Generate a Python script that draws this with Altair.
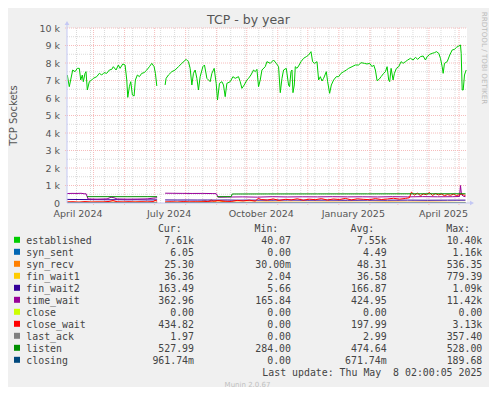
import altair as alt
import pandas as pd

# ---------------- data ----------------
START = pd.Timestamp("2024-04-04 12:00")  # left edge of the plot; "day" values count from here

names = ["established", "syn_sent", "syn_recv", "fin_wait1", "fin_wait2", "time_wait",
         "close", "close_wait", "last_ack", "listen", "closing"]
colors = ["#00CC00", "#0066B3", "#FF8000", "#FFCC00", "#330099", "#990099",
          "#CCFF00", "#FF0000", "#808080", "#008F00", "#00487D"]

cur_txt = ["7.61k", "6.05", "25.30", "36.36", "163.49", "362.96", "0.00", "434.82", "1.97", "527.99", "961.74m"]
min_txt = ["40.07", "0.00", "30.00m", "2.04", "5.66", "165.84", "0.00", "0.00", "0.00", "284.00", "0.00"]
avg_txt = ["7.55k", "4.49", "48.31", "36.58", "166.87", "424.95", "0.00", "197.99", "2.99", "474.64", "671.74m"]
max_txt = ["10.40k", "1.16k", "536.35", "779.39", "1.09k", "11.42k", "0.00", "3.13k", "357.40", "528.00", "189.68"]

est_days = [0.3, 2.3, 5.7, 8, 10.3, 12.3, 13.7, 15.3, 16.3, 18, 19, 20.3, 22.3, 24.7, 26.3, 29.7, 32.3, 34.7, 37, 39.7,
            42.3, 44.7, 46.3, 49, 51.3, 53, 55.7, 58, 59.7, 60.7, 62.3, 63.7, 65.3, 67, 68.3, 70.3, 72.3, 74.7, 77, 79.7,
            82.3, 84.7, 87, 88.3, 89.7,
            98, 99, 101.3, 104.7, 108, 111.3, 114.7, 119, 121.3, 123, 124.7, 126.3, 128, 129.7, 131.3, 133, 135.7, 137.3,
            139.7, 143, 144.7, 147, 149, 150.3, 152.3, 154.7, 156.3, 158, 159.7, 163, 165.7, 168, 171.3, 173, 174.7, 177,
            179.7, 181.3, 183.7, 186.3, 188, 189.7, 191.3, 193, 194.7, 198, 199.7, 203, 206.3,
            209, 211.3, 213, 214.7, 216.3, 219, 221.3, 222.3, 223.7, 224.7, 225.7, 227, 228, 229.7, 231.3, 233.7, 236.3,
            239, 241.3, 243.7, 245.3, 247.3, 249.7, 251.3, 253, 254.7, 256.3, 259, 260.3, 262.3, 264, 266.3, 269, 271.3,
            273.7, 276.3, 279, 281.3, 284.7, 288, 291.3, 293.7, 297, 299.7, 302.3, 304.7, 306.3, 308, 309.7, 311.7, 313.7,
            316.3, 318, 319.7, 321.3, 322.3, 323.7, 325.7, 327, 329, 331.3, 333.7, 335.7, 338, 340.3, 343, 345.7, 348,
            350.3, 353, 355.7, 358, 359.7, 362.3, 364.7, 367, 369, 371.3, 373, 374.7, 375.7, 377, 379.7, 382.3, 384.7,
            387, 389, 391.3, 393, 393.7, 394.7, 395.7, 397, 398.7]
est_vals = [7314, 6648, 7600, 7505, 7695, 7695, 7029, 7314, 6933, 7410, 7505, 6457, 6933, 7029, 7124, 7219, 7410, 7314,
            7448, 7410, 7600, 7638, 7790, 7600, 7886, 7695, 7943, 7886, 7029, 6038, 6648, 6933, 6171, 6114, 7029, 7314,
            7219, 7410, 7448, 7600, 7790, 7981, 7790, 7410, 6686,
            6743, 7124, 7314, 7505, 7600, 7790, 7981, 8210, 8076, 7695, 6743, 7410, 7600, 7124, 6457, 7219, 7790, 7886,
            7124, 6933, 7410, 7695, 6838, 5886, 6838, 6933, 6743, 6076, 6838, 6933, 7219, 7124, 7219, 6933, 6552, 6743,
            7029, 7124, 7314, 7600, 7505, 7638, 6648, 7029, 7600, 7790, 8076, 7981, 8171,
            7981, 7790, 6305, 7124, 7600, 7695, 6743, 6648, 7505, 7600, 6305, 6743, 7790, 7695, 7829, 8076, 8267, 8362,
            8457, 8648, 8076, 7981, 8076, 7029, 7219, 6971, 7124, 7505, 6933, 6267, 6743, 7029, 7219, 7219, 7410, 7505,
            7600, 7695, 7790, 7886, 7886, 8019, 7981, 7943, 7981, 7790, 7886, 7600, 6990, 7067, 7219, 7410, 7505, 7790,
            7029, 6933, 7695, 7029, 7410, 7695, 7790, 8076, 7981, 8076, 8171, 8267, 8171, 8324, 8210, 8362, 8400, 8171,
            8362, 8495, 8552, 8590, 8648, 8552, 8267, 7790, 7410, 7981, 8076, 8457, 8743, 8781, 8895, 8971, 9029, 8552,
            6457, 6457, 7314, 7600]

ss_days = [0, 90, 98, 398]
ss_vals = [5, 5, 5, 6]

sr_days = [0, 10, 20, 30, 40, 50, 60, 70, 80, 90, 98, 110, 120, 130, 138, 141, 144, 147, 150, 160, 170, 180, 200, 220,
           240, 260, 280, 300, 320, 340, 360, 380, 398]
sr_vals = [40, 35, 45, 40, 50, 45, 40, 60, 45, 40, 35, 40, 45, 50, 120, 60, 180, 70, 130, 50, 45, 40, 55, 45, 40, 50, 45,
           40, 55, 45, 50, 40, 25]

fw1_days = [0, 30, 60, 90, 98, 130, 160, 200, 240, 280, 320, 360, 398]
fw1_vals = [35, 38, 34, 36, 37, 35, 38, 36, 37, 35, 38, 36, 36]

fw2_days = [0, 10, 20, 30, 40, 50, 60, 70, 80, 90, 98, 110, 120, 130, 140, 150, 160, 170, 180, 200, 220, 240, 260, 280,
            300, 320, 340, 360, 380, 398]
fw2_vals = [205, 200, 195, 190, 185, 190, 180, 185, 175, 180, 175, 170, 172, 168, 170, 165, 170, 160, 165, 162, 168, 160,
            165, 158, 162, 160, 165, 158, 162, 163]

tw_days = [0, 5, 10, 14, 18, 19, 21, 30, 40, 44, 47, 50, 60, 70, 80, 88, 90, 98, 105, 115, 125, 135, 145, 149, 151, 160,
           175, 190, 205, 220, 235, 250, 265, 280, 295, 310, 325, 340, 355, 370, 385, 392, 393, 394, 396, 398]
tw_vals = [540, 550, 545, 555, 520, 535, 230, 220, 235, 330, 300, 230, 220, 225, 235, 290, 300, 560, 555, 550, 545, 548,
           540, 535, 330, 340, 350, 335, 360, 345, 355, 350, 360, 350, 355, 345, 360, 350, 365, 355, 360, 370, 1000, 480,
           380, 363]

cl_days = [0, 90, 98, 398]
cl_vals = [0, 0, 0, 0]

cw_days = [0, 6, 12, 18, 24, 30, 36, 42, 46, 50, 56, 62, 68, 74, 80, 86, 88, 90, 98, 104, 110, 116, 122, 128, 134, 140,
           146, 152, 158, 164, 170, 176, 182, 188, 191, 194, 200, 206, 212, 218, 224, 230, 236, 242, 248, 254, 260, 266,
           272, 278, 284, 290, 296, 302, 308, 314, 320, 326, 332, 338, 342, 344, 347, 350, 353, 356, 359, 362, 365, 368,
           371, 374, 377, 380, 383, 386, 389, 392, 394, 396, 398]
cw_vals = [60, 70, 50, 80, 55, 65, 60, 90, 140, 70, 60, 75, 55, 70, 60, 80, 150, 110, 60, 70, 55, 80, 65, 70, 60, 90, 110,
           140, 100, 90, 150, 120, 160, 110, 260, 200, 170, 230, 150, 210, 180, 240, 160, 220, 190, 250, 170, 230, 200,
           260, 180, 240, 210, 190, 250, 200, 230, 270, 220, 260, 300, 620, 450, 560, 420, 520, 470, 600, 430, 540, 460,
           510, 420, 480, 440, 500, 430, 470, 520, 460, 435]

la_days = [0, 90, 98, 398]
la_vals = [3, 3, 3, 2]

ls_days = [20, 40, 60, 80, 90, 150, 164, 165, 200, 250, 300, 350, 398]
ls_vals = [362, 362, 360, 362, 362, 362, 362, 515, 518, 520, 522, 526, 528]

cs_days = [0, 90, 98, 398]
cs_vals = [1, 1, 1, 1]

series = [("established", est_days, est_vals), ("syn_sent", ss_days, ss_vals), ("syn_recv", sr_days, sr_vals),
          ("fin_wait1", fw1_days, fw1_vals), ("fin_wait2", fw2_days, fw2_vals), ("time_wait", tw_days, tw_vals),
          ("close", cl_days, cl_vals), ("close_wait", cw_days, cw_vals), ("last_ack", la_days, la_vals),
          ("listen", ls_days, ls_vals), ("closing", cs_days, cs_vals)]

month_starts = ["2024-05-01", "2024-06-01", "2024-07-01", "2024-08-01", "2024-09-01", "2024-10-01", "2024-11-01",
                "2024-12-01", "2025-01-01", "2025-02-01", "2025-03-01", "2025-04-01", "2025-05-01"]
label_dates = [(2024, 4), (2024, 7), (2024, 10), (2025, 1), (2025, 4)]
y_major = [1000, 2000, 3000, 4000, 5000, 6000, 7000, 8000, 9000, 10000]
y_minor = [500, 1500, 2500, 3500, 4500, 5500, 6500, 7500, 8500, 9500]

# ---------------- tables ----------------
rows = []
for name, days, vals in series:
    for d, v in zip(days, vals):
        rows.append({"series": name, "date": START + pd.Timedelta(days=d), "value": v, "seg": int(d >= 91)})
df = pd.DataFrame(rows)

minor_dates = pd.date_range("2024-04-14", "2025-05-08", freq="14D")
vmin_df = pd.DataFrame({"date": minor_dates})
vmaj_df = pd.DataFrame({"date": pd.to_datetime(month_starts)})
hmaj_df = pd.DataFrame({"value": y_major})
hmin_df = pd.DataFrame({"value": y_minor})
one = pd.DataFrame({"_": [0]})

W, H = 400, 175
SANS = "DejaVu Sans"
MONO = "DejaVu Sans Mono"
TXT = "#555555"
LEG = "#444444"
AXIS_C = "#c4c8f4"
MAJ_C = "#f6bcbc"
MIN_C = "#dadada"

xscale = alt.Scale(domain=[alt.DateTime(year=2024, month=4, date=4, hours=12),
                           alt.DateTime(year=2025, month=5, date=9)])
yscale = alt.Scale(domain=[0, 10000], nice=False, zero=True)
xaxis = alt.Axis(values=[alt.DateTime(year=y, month=m, date=15) for y, m in label_dates],
                 labelExpr="timeFormat(datum.value, '%B %Y')", ticks=False, domain=False, grid=False,
                 labelFont=SANS, labelFontSize=9.5, labelColor=TXT, labelPadding=5.5,
                 labelFlush=False, labelOverlap=False, labelBound=False, title=None)
yaxis = alt.Axis(values=[0] + y_major,
                 labelExpr="datum.value == 0 ? '0\u00a0\u00a0' : (datum.value / 1000) + ' k'",
                 ticks=False, domain=False, grid=False, labelFont=SANS, labelFontSize=9.5, labelColor=TXT,
                 labelPadding=7.5, title=None)
X = alt.X("date:T", scale=xscale, axis=xaxis)
Y = alt.Y("value:Q", scale=yscale, axis=yaxis)

layers = []
layers.append(alt.Chart(vmin_df).mark_rule(color=MIN_C, strokeDash=[1, 1], strokeWidth=1).encode(
    x=X, y=alt.value(0), y2=alt.value(H)))
layers.append(alt.Chart(hmin_df).mark_rule(color=MIN_C, strokeDash=[1, 1], strokeWidth=1).encode(
    y=Y, x=alt.value(0), x2=alt.value(W)))
layers.append(alt.Chart(vmaj_df).mark_rule(color=MAJ_C, strokeDash=[1, 1], strokeWidth=1).encode(
    x=X, y=alt.value(0), y2=alt.value(H + 2.5)))
layers.append(alt.Chart(hmaj_df).mark_rule(color=MAJ_C, strokeDash=[1, 1], strokeWidth=1).encode(
    y=Y, x=alt.value(-2), x2=alt.value(W)))

layers.append(alt.Chart(df).mark_line(strokeWidth=1, clip=True).encode(
    x=X, y=Y,
    color=alt.Color("series:N", scale=alt.Scale(domain=names, range=colors), legend=None),
    detail="seg:N"))

# axis lines and arrows
layers.append(alt.Chart(one).mark_rule(color=AXIS_C, strokeWidth=1).encode(
    x=alt.value(0), y=alt.value(-5), y2=alt.value(H)))
layers.append(alt.Chart(one).mark_rule(color=AXIS_C, strokeWidth=1).encode(
    x=alt.value(0), x2=alt.value(W + 5), y=alt.value(H)))
layers.append(alt.Chart(one).mark_point(shape="triangle-up", filled=True, size=22, color=AXIS_C, opacity=1).encode(
    x=alt.value(0), y=alt.value(-5)))
layers.append(alt.Chart(one).mark_point(shape="triangle-right", filled=True, size=22, color=AXIS_C, opacity=1).encode(
    x=alt.value(W + 5), y=alt.value(H)))

# titles
layers.append(alt.Chart(one).mark_text(text="TCP - by year", font=SANS, fontSize=12.5, color=TXT,
                                       align="center", baseline="alphabetic").encode(
    x=alt.value(181.5), y=alt.value(-4)))
layers.append(alt.Chart(one).mark_text(text="TCP Sockets", font=SANS, fontSize=10, color=TXT,
                                       align="center", baseline="middle", angle=270).encode(
    x=alt.value(-53.5), y=alt.value(87.5)))
layers.append(alt.Chart(one).mark_text(text="RRDTOOL / TOBI OETIKER", font=SANS, fontSize=7.2, color="#bcbcbc",
                                       align="center", baseline="middle", angle=90).encode(
    x=alt.value(417), y=alt.value(30)))

# legend
NB = "\u00a0"
def pad(s):
    return s if s[-1] in "km" else s + NB

ROW0 = 215.5
LH = 12
for i, (n, c) in enumerate(zip(names, colors)):
    layers.append(alt.Chart(one).mark_square(size=36, color=c, opacity=1).encode(
        x=alt.value(-50), y=alt.value(ROW0 - 3.7 + LH * i)))
layers.append(alt.Chart(one).mark_text(text=names, font=MONO, fontSize=9.9, color=LEG, align="left",
                                       baseline="alphabetic", lineHeight=LH).encode(
    x=alt.value(-40.7), y=alt.value(ROW0)))
for col_txt, right, head, head_right in [(cur_txt, 127, "Cur:", 114.7), (min_txt, 224, "Min:", 211.3),
                                         (avg_txt, 319.7, "Avg:", 307.3), (max_txt, 415.3, "Max:", 403)]:
    layers.append(alt.Chart(one).mark_text(text=[pad(s) for s in col_txt], font=MONO, fontSize=9.9, color=LEG,
                                           align="right", baseline="alphabetic", lineHeight=LH).encode(
        x=alt.value(right), y=alt.value(ROW0)))
    layers.append(alt.Chart(one).mark_text(text=head, font=MONO, fontSize=9.9, color=LEG,
                                           align="right", baseline="alphabetic").encode(
        x=alt.value(head_right), y=alt.value(ROW0 - LH)))
layers.append(alt.Chart(one).mark_text(text="Last update: Thu May" + NB + NB + "8 02:00:05 2025", font=MONO,
                                       fontSize=9.9, color=LEG, align="right", baseline="alphabetic").encode(
    x=alt.value(415.3), y=alt.value(ROW0 + 11 * LH)))
layers.append(alt.Chart(one).mark_text(text="Munin 2.0.67", font=SANS, fontSize=7, color="#c0c0c0",
                                       align="center", baseline="alphabetic").encode(
    x=alt.value(180.5), y=alt.value(358.5)))

chart = alt.layer(*layers).properties(
    width=W, height=H,
    padding={"left": 59, "top": 20, "right": 22, "bottom": 184},
    autosize=alt.AutoSizeParams(type="none"),
    background="#f0f0f0",
).configure_view(fill="white", strokeWidth=0)

chart.save("out.html", embed_options={"renderer": "svg", "actions": False})
